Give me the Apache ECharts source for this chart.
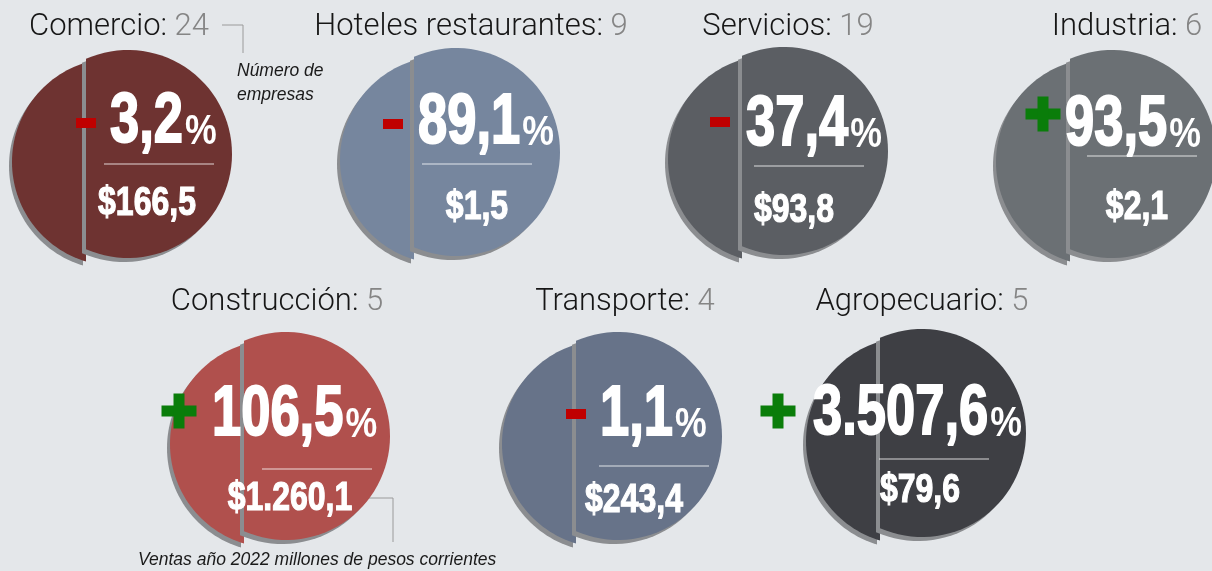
<!DOCTYPE html>
<html>
<head>
<meta charset="utf-8">
<script src="https://cdn.jsdelivr.net/npm/echarts@6/dist/echarts.min.js"></script>
<style>
  html, body { margin: 0; padding: 0; background: #e4e7ea; }
  #chart { width: 1212px; height: 571px; }
</style>
</head>
<body>
<div id="chart"></div>
<script>
// datos
var sectors = ['Comercio', 'Hoteles restaurantes', 'Servicios', 'Industria', 'Construcción', 'Transporte', 'Agropecuario'];
var companies = [24, 9, 19, 6, 5, 4, 5];
var salesChange = [-3.2, -89.1, -37.4, 93.5, 106.5, -1.1, 3507.6];
var sales2022 = [166.5, 1.5, 93.8, 2.1, 1260.1, 243.4, 79.6];

// estilos
var colors = ['#6e3331', '#76869e', '#5b5e63', '#6b7074', '#b0504d', '#677389', '#3e3f44'];
var shadowColor = '#8b8d90';
var bold = '"Liberation Sans", Arial, sans-serif';
var bigSize = 70, pctSize = 42, valSize = 40;
var bigFont = 'bold ' + bigSize + 'px ' + bold;
var pctFont = 'bold ' + pctSize + 'px ' + bold;
var valFont = 'bold ' + valSize + 'px ' + bold;
var bigScale = 0.75, pctScale = 0.85, valScale = 0.8;

// posiciones: centro del circulo, titulo, signo, porcentaje (izq/base), regla, valor (centro/base)
var layout = [
    { cx: 128,  cy: 154, tx: 119,  ty: 27.5, sx: 86,   sy: 123, px: 110,  py: 147, lx: 159,  ly: 164, vx: 147,  vy: 218 },
    { cx: 456,  cy: 152, tx: 471,  ty: 27.5, sx: 393,  sy: 124, px: 418,  py: 148, lx: 477,  ly: 164, vx: 477,  vy: 222 },
    { cx: 784,  cy: 151, tx: 788,  ty: 27.5, sx: 720,  sy: 122, px: 746,  py: 150, lx: 809,  ly: 166, vx: 794,  vy: 225 },
    { cx: 1112, cy: 154, tx: 1127, ty: 27.5, sx: 1043, sy: 114, px: 1065, py: 150, lx: 1142, ly: 156, vx: 1137, vy: 222 },
    { cx: 286,  cy: 436, tx: 277,  ty: 302,  sx: 179,  sy: 411, px: 212,  py: 440, lx: 317,  ly: 469, vx: 290,  vy: 513 },
    { cx: 618,  cy: 436, tx: 625,  ty: 302,  sx: 576,  sy: 414, px: 600,  py: 440, lx: 654,  ly: 466, vx: 634,  vy: 515 },
    { cx: 922,  cy: 433, tx: 922,  ty: 302,  sx: 778,  sy: 411, px: 813,  py: 439, lx: 934,  ly: 459, vx: 920,  vy: 505 }
];

var ctx = document.createElement('canvas').getContext('2d');
function textWidth(str, font) {
    ctx.font = font;
    return ctx.measureText(str).width;
}

// 3.507,6
function fmt(v) {
    var parts = Math.abs(v).toFixed(1).split('.');
    return parts[0].replace(/\B(?=(\d{3})+(?!\d))/g, '.') + ',' + parts[1];
}

// segmento de circulo cortado en x = cut
function segment(cx, cy, r, cut, side) {
    var a = Math.acos((cut - cx) / r);
    var pts = [];
    var n = 64;
    for (var k = 0; k <= n; k++) {
        var t = side > 0 ? -a + 2 * a * k / n : a + (2 * Math.PI - 2 * a) * k / n;
        pts.push([cx + r * Math.cos(t), cy + r * Math.sin(t)]);
    }
    return pts;
}

function shift(pts, dx, dy) {
    return pts.map(function (p) { return [p[0] + dx, p[1] + dy]; });
}

function baselineY(base, size) {
    return base - 0.3465 * size;
}

var myChart = echarts.init(document.getElementById('chart'));

option = {
    backgroundColor: '#e4e7ea',
    animation: false,
    series: [{
        type: 'custom',
        coordinateSystem: 'none',
        silent: true,
        data: sectors.map(function (s, i) { return [i, companies[i], salesChange[i], sales2022[i]]; }),
        renderItem: function (params, api) {
            var i = params.dataIndex;
            var p = layout[i];
            var r = 104;
            var cut = p.cx - 42;
            var left = segment(p.cx - 12, p.cy + 8, r, cut, -1);
            var right = segment(p.cx, p.cy, r, cut, 1);
            var kids = [
                { type: 'polygon', shape: { points: shift(left, -3, 4) }, style: { fill: shadowColor } },
                { type: 'polygon', shape: { points: left }, style: { fill: colors[i] } },
                { type: 'polygon', shape: { points: shift(right, -4, 4) }, style: { fill: shadowColor } },
                { type: 'polygon', shape: { points: right }, style: { fill: colors[i] } }
            ];

            // titulo
            kids.push({
                type: 'text', x: p.tx, y: p.ty,
                style: {
                    text: '{n|' + sectors[i] + ': }{c|' + api.value(1) + '}',
                    align: 'center', verticalAlign: 'middle',
                    rich: {
                        n: { fill: '#161616', fontFamily: 'Roboto', fontWeight: 300, fontSize: 31 },
                        c: { fill: '#858585', fontFamily: 'Roboto', fontWeight: 300, fontSize: 31 }
                    }
                }
            });

            // signo
            var chg = api.value(2);
            if (chg < 0) {
                kids.push({ type: 'rect', shape: { x: p.sx - 10, y: p.sy - 5, width: 20, height: 10 }, style: { fill: '#c00000' } });
            } else {
                kids.push({ type: 'rect', shape: { x: p.sx - 17.5, y: p.sy - 5.5, width: 35, height: 11 }, style: { fill: '#0a7d0a' } });
                kids.push({ type: 'rect', shape: { x: p.sx - 5.5, y: p.sy - 17.5, width: 11, height: 35 }, style: { fill: '#0a7d0a' } });
            }

            // porcentaje
            var num = fmt(chg);
            var w = textWidth(num, bigFont) * bigScale;
            kids.push({
                type: 'text', x: p.px, y: baselineY(p.py, bigSize), scaleX: bigScale,
                style: { text: num, font: bigFont, fill: '#fff', stroke: '#fff', lineWidth: 2, align: 'left', verticalAlign: 'middle' }
            });
            kids.push({
                type: 'text', x: p.px + w + 2, y: baselineY(p.py, pctSize), scaleX: pctScale,
                style: { text: '%', font: pctFont, fill: '#fff', align: 'left', verticalAlign: 'middle' }
            });

            // regla
            kids.push({
                type: 'line', shape: { x1: p.lx - 55, y1: p.ly, x2: p.lx + 55, y2: p.ly },
                style: { stroke: 'rgba(255,255,255,0.8)', lineWidth: 1 }
            });

            // ventas
            kids.push({
                type: 'text', x: p.vx, y: baselineY(p.vy, valSize), scaleX: valScale,
                style: { text: '$' + fmt(api.value(3)), font: valFont, fill: '#fff', stroke: '#fff', lineWidth: 1.2, align: 'center', verticalAlign: 'middle' }
            });

            return { type: 'group', children: kids };
        }
    }],
    graphic: [
        { type: 'polyline', shape: { points: [[222, 25], [243, 25], [243, 53]] }, style: { stroke: '#9a9a9a', fill: null, lineWidth: 1 } },
        { type: 'text', x: 237, y: 71, style: { text: 'Número de', font: 'italic 17.5px "Liberation Sans", sans-serif', fill: '#1a1a1a' , verticalAlign: 'middle' } },
        { type: 'text', x: 237, y: 95, style: { text: 'empresas', font: 'italic 17.5px "Liberation Sans", sans-serif', fill: '#1a1a1a', verticalAlign: 'middle' } },
        { type: 'polyline', shape: { points: [[353, 498], [393, 498], [393, 542]] }, style: { stroke: '#9a9a9a', fill: null, lineWidth: 1 } },
        { type: 'text', x: 138, y: 560, style: { text: 'Ventas año 2022 millones de pesos corrientes', font: 'italic 17.5px "Liberation Sans", sans-serif', fill: '#1a1a1a', verticalAlign: 'middle' } }
    ]
};

myChart.setOption(option);
</script>
</body>
</html>
